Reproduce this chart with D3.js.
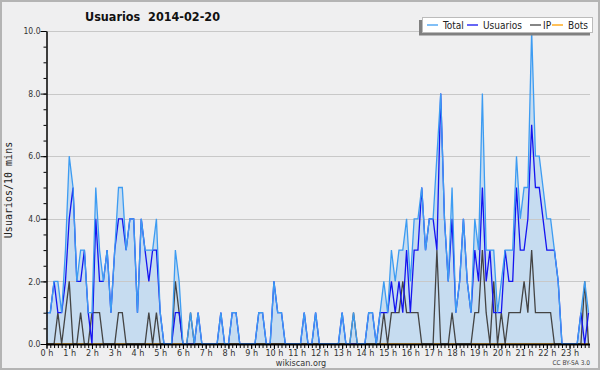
<!DOCTYPE html>
<html>
<head>
<meta charset="utf-8">
<script src="https://cdn.jsdelivr.net/npm/d3@7"></script>
<style>
  body { margin: 0; background: #efeff0; }
  svg { display: block; }
</style>
</head>
<body>
<div id="chart"></div>
<script>
// users per 10 minutes, 2014-02-20 (144 slots, 6 per hour, one hour per row)
const total = [
  1,1,2,2,1,3,  6,5,2,3,3,1,  1,5,3,2,3,1,  3,5,5,3,4,4,
  1,4,3,3,3,4,  1,0,0,0,3,2,  0,0,1,0,1,0,  0,0,0,0,1,0,
  0,1,1,0,0,0,  0,0,1,1,0,0,  2,1,1,0,0,0,  0,0,1,0,0,1,
  0,0,0,0,0,0,  1,0,0,1,0,0,  0,1,1,0,1,2,  1,3,2,3,3,4,
  2,4,4,5,3,4,  4,6,8,4,2,5,  1,2,4,2,1,4,  3,8,3,3,3,1,
  2,3,3,3,6,4,  5,5,10,6,6,5, 4,4,3,2,0,0,  0,0,0,1,2,1
];
const usuarios = [
  1,1,2,1,1,2,  4,5,2,2,3,1,  0,4,2,2,3,1,  3,4,4,3,4,4,
  1,4,3,2,3,3,  1,0,0,0,1,1,  0,0,0,0,1,0,  0,0,0,0,1,0,
  0,1,1,0,0,0,  0,0,1,1,0,0,  2,1,1,0,0,0,  0,0,1,0,0,1,
  0,0,0,0,0,0,  1,0,0,0,0,0,  0,1,1,0,1,1,  1,2,1,2,1,3,
  1,3,3,5,3,4,  4,3,8,4,2,4,  1,2,4,2,1,3,  2,5,2,3,1,1,
  1,3,2,2,5,3,  3,4,7,5,5,4,  3,3,3,2,0,0,  0,0,0,1,0,1
];
const ip = [
  0,0,0,1,0,1,  2,0,0,1,0,0,  1,1,1,0,0,0,  0,1,1,0,0,0,
  0,0,0,1,0,1,  0,0,0,0,2,1,  0,0,1,0,0,0,  0,0,0,0,0,0,
  0,0,0,0,0,0,  0,0,0,0,0,0,  0,0,0,0,0,0,  0,0,0,0,0,0,
  0,0,0,0,0,0,  0,0,0,1,0,0,  0,0,0,0,0,1,  0,1,1,1,2,1,
  1,1,1,0,0,0,  0,3,0,0,0,1,  0,0,0,0,0,1,  1,3,1,0,2,0,
  1,0,1,1,1,1,  2,1,3,1,1,1,  1,1,0,0,0,0,  0,0,0,0,2,0
];
const bots = [
  0,0,0,0,0,0,  0,0,0,0,0,0,  0,0,0,0,0,0,  0,0,0,0,0,0,
  0,0,0,0,0,0,  0,0,0,0,0,0,  0,0,0,0,0,0,  0,0,0,0,0,0,
  0,0,0,0,0,0,  0,0,0,0,0,0,  0,0,0,0,0,0,  0,0,0,0,0,0,
  0,0,0,0,0,0,  0,0,0,0,0,0,  0,0,0,0,0,0,  0,0,0,0,0,0,
  0,0,0,0,0,0,  0,0,0,0,0,0,  0,0,0,0,0,0,  0,0,0,0,0,0,
  0,0,0,0,0,0,  0,0,0,0,0,0,  0,0,0,0,0,0,  0,0,0,0,0,0
];
const hourLabels = ["0 h","1 h","2 h","3 h","4 h","5 h","6 h","7 h","8 h","9 h","10 h","11 h",
  "12 h","13 h","14 h","15 h","16 h","17 h","18 h","19 h","20 h","21 h","22 h","23 h"];
const yTicks = [0, 2, 4, 6, 8, 10];

const series = [
  { name: "Total",    values: total,    color: "#3d9cf2" },
  { name: "Usuarios", values: usuarios, color: "#1414f0" },
  { name: "IP",       values: ip,       color: "#444444" },
  { name: "Bots",     values: bots,     color: "#ffa000" }
];

const W = 600, H = 370;
const margin = { top: 31, right: 10, bottom: 26, left: 46.5 };
const sansFont = "'DejaVu Sans Condensed', 'DejaVu Sans', sans-serif";

const svg = d3.select("#chart").append("svg")
  .attr("width", W)
  .attr("height", H);

// frame
svg.append("rect")
  .attr("x", 1).attr("y", 1)
  .attr("width", W - 2).attr("height", H - 2)
  .attr("fill", "#efeff0")
  .attr("stroke", "#b4b4b4")
  .attr("stroke-width", 2);

// scales
const x = d3.scaleLinear()
  .domain([0, 144])
  .range([margin.left, 592.3]);
const y = d3.scaleLinear()
  .domain([0, 10])
  .range([H - margin.bottom - 0, margin.top]);
const yBottom = y(0);
const plotRight = 590;

// area under the total
svg.append("path")
  .datum(total)
  .attr("fill", "#c6dcf0")
  .attr("d", d3.area()
    .x((d, i) => x(i))
    .y0(yBottom)
    .y1(d => y(d)));

// grid
svg.append("g")
  .selectAll("line")
  .data(yTicks.filter(d => d > 0))
  .enter().append("line")
  .attr("x1", margin.left).attr("x2", plotRight)
  .attr("y1", d => Math.round(y(d)) + 0.5)
  .attr("y2", d => Math.round(y(d)) + 0.5)
  .attr("stroke", "#c8c8c8")
  .attr("stroke-width", 1);

// series lines (bots first so it sits under the rest)
const line = d3.line()
  .x((d, i) => x(i))
  .y(d => y(d));

svg.append("g")
  .selectAll("path")
  .data(series.slice().reverse())
  .enter().append("path")
  .attr("fill", "none")
  .attr("stroke", d => d.color)
  .attr("stroke-width", 1.3)
  .attr("stroke-linejoin", "miter")
  .attr("d", d => line(d.values));

// y axis: labelled ticks every 2, small ticks every 0.5
const yAxis = svg.append("g")
  .attr("transform", `translate(${margin.left},0)`);
yAxis.append("g")
  .call(d3.axisLeft(y).tickValues(d3.range(0, 10.01, 0.5)).tickSize(3).tickFormat(""))
  .call(g => g.select(".domain").remove());
yAxis.append("g")
  .call(d3.axisLeft(y).tickValues(yTicks).tickSize(6).tickSizeOuter(0)
    .tickFormat(d3.format(".1f")))
  .call(g => g.select(".domain").attr("stroke-width", 1.5))
  .call(g => g.selectAll("text")
    .attr("x", -6)
    .style("font-family", sansFont)
    .style("font-size", "8.5px")
    .attr("fill", "#333"));

// x axis: ticks every 10 minutes, labels every hour
const xAxis = svg.append("g")
  .attr("transform", `translate(0,${yBottom})`);
xAxis.append("g")
  .call(d3.axisBottom(x).tickValues(d3.range(0, 144)).tickSize(4).tickFormat(""))
  .call(g => g.select(".domain").remove());
xAxis.append("g")
  .call(d3.axisBottom(x).tickValues(d3.range(0, 144, 6)).tickSize(5).tickSizeOuter(0)
    .tickFormat((d, i) => hourLabels[i]))
  .call(g => g.select(".domain")
    .attr("d", `M${margin.left},0.5H${plotRight}`)
    .attr("stroke-width", 2))
  .call(g => g.selectAll("text")
    .attr("y", 6)
    .style("font-family", sansFont)
    .style("font-size", "9px")
    .attr("fill", "#333"));

// title
svg.append("text")
  .attr("x", 85)
  .attr("y", 21)
  .style("white-space", "pre")
  .style("font-family", sansFont)
  .style("font-weight", "bold")
  .style("font-size", "12.5px")
  .attr("fill", "#111")
  .text("Usuarios  2014-02-20");

// y label
svg.append("text")
  .attr("transform", "translate(12,190) rotate(-90)")
  .attr("text-anchor", "middle")
  .style("font-family", "'DejaVu Sans Mono', monospace")
  .style("font-size", "10px")
  .attr("fill", "#222")
  .text("Usuarios/10 mins");

// footer
svg.append("text")
  .attr("x", 301).attr("y", 366)
  .attr("text-anchor", "middle")
  .style("font-family", sansFont)
  .style("font-size", "9px")
  .attr("fill", "#333")
  .text("wikiscan.org");

svg.append("text")
  .attr("x", 590).attr("y", 365)
  .attr("text-anchor", "end")
  .style("font-family", sansFont)
  .style("font-size", "6.5px")
  .attr("fill", "#444")
  .text("CC BY-SA 3.0");

// legend with shadow
const legend = svg.append("g");
legend.append("rect")
  .attr("x", 419).attr("y", 20)
  .attr("width", 171).attr("height", 15.5)
  .attr("fill", "#808080");
legend.append("rect")
  .attr("x", 422.5).attr("y", 17.5)
  .attr("width", 170).attr("height", 15)
  .attr("fill", "#fff")
  .attr("stroke", "#bbb");

const legendX = [427, 467, 530, 552];
const items = legend.selectAll(".item")
  .data(series)
  .enter().append("g")
  .attr("class", "item")
  .attr("transform", (d, i) => `translate(${legendX[i]},25)`);
items.append("line")
  .attr("x1", 0).attr("x2", 11)
  .attr("stroke", d => d.color)
  .attr("stroke-width", 1.3);
items.append("text")
  .attr("x", (d, i) => i === 2 ? 13 : 16)
  .attr("y", 3.5)
  .style("font-family", sansFont)
  .style("font-size", "10px")
  .attr("fill", "#222")
  .text(d => d.name);
</script>
</body>
</html>
